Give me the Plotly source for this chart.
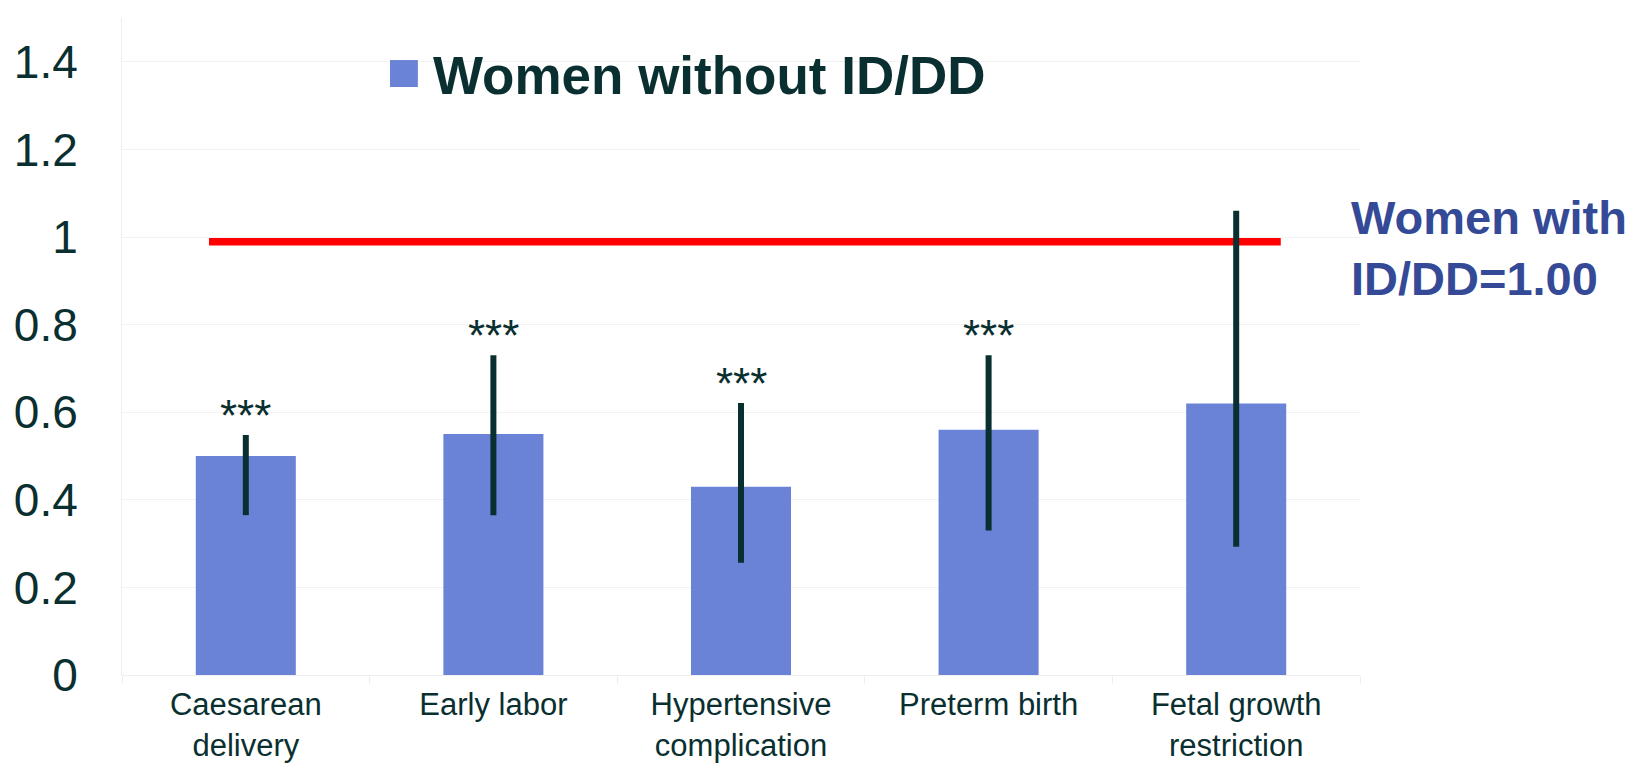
import plotly.graph_objects as go

categories = ["Caesarean<br>delivery", "Early labor", "Hypertensive<br>complication",
              "Preterm birth", "Fetal growth<br>restriction"]
odds_ratio = [0.50, 0.55, 0.43, 0.56, 0.62]
ci_low = [0.365, 0.365, 0.256, 0.33, 0.293]
ci_high = [0.548, 0.73, 0.621, 0.73, 1.06]
significance = ["***", "***", "***", "***", ""]
reference_value = 0.99
y_ticks = [0, 0.2, 0.4, 0.6, 0.8, 1.0, 1.2, 1.4]
y_tick_text = ["0", "0.2", "0.4", "0.6", "0.8", "1", "1.2", "1.4"]
series_name = "Women without ID/DD"
reference_label = "Women with<br>ID/DD=1.00"

FONT = "Arial, Liberation Sans, sans-serif"
DARK = "#0a2f30"
BAR = "#6b83d6"

fig = go.Figure()
fig.add_trace(go.Bar(
    x=categories, y=odds_ratio, name=series_name,
    marker=dict(color=BAR, line=dict(width=0)),
    error_y=dict(type="data", symmetric=False,
                 array=[h - v for h, v in zip(ci_high, odds_ratio)],
                 arrayminus=[v - l for v, l in zip(odds_ratio, ci_low)],
                 color=DARK, thickness=6, width=0),
    showlegend=False,
))

for c, h, s in zip(categories, ci_high, significance):
    if s:
        fig.add_annotation(x=c, y=h, text=s, showarrow=False, xref="x", yref="y",
                           yanchor="bottom", yshift=-7,
                           font=dict(family=FONT, size=44, color=DARK))

# reference line (women with ID/DD)
fig.add_shape(type="line", xref="paper", yref="y", x0=0.0703, x1=0.936,
              y0=reference_value, y1=reference_value,
              line=dict(color="#ff0000", width=8), layer="below")

fig.add_annotation(xref="paper", yref="y", x=0.991, y=0.975, xanchor="left", yanchor="middle",
                   text="<b>" + reference_label + "</b>", showarrow=False, align="left",
                   font=dict(family=FONT, size=47, color="#344a97"))

# legend
fig.add_shape(type="rect", xref="paper", yref="paper", x0=0.2165, x1=0.239, y0=0.895, y1=0.936,
              fillcolor=BAR, line=dict(width=0))
fig.add_annotation(xref="paper", yref="paper", x=0.2496, y=0.913, xanchor="left", yanchor="middle",
                   text="<b>" + series_name + "</b>", showarrow=False,
                   font=dict(family=FONT, size=53, color=DARK))

fig.update_layout(
    width=1641, height=767,
    margin=dict(l=122, r=281, t=18, b=92),
    paper_bgcolor="white", plot_bgcolor="white",
    bargap=0.596,
    font=dict(family=FONT, color=DARK),
)
fig.update_xaxes(
    automargin=False,
    showgrid=False, showline=True, linecolor="#eeeeee", linewidth=1,
    tickson="boundaries", ticks="outside", ticklen=8, tickcolor="#eeeeee",
    ticklabelstandoff=2,
    tickfont=dict(family=FONT, size=31, color=DARK),
)
fig.update_yaxes(
    automargin=False,
    range=[0, 1.5], tickvals=y_ticks, ticktext=y_tick_text,
    showgrid=True, gridcolor="#f2f2f2", gridwidth=1, zeroline=False,
    showline=True, linecolor="#eeeeee", linewidth=1,
    ticks="", ticklabelstandoff=34,
    tickfont=dict(family=FONT, size=46, color=DARK),
)

fig.write_html("out.html", config={"displayModeBar": False},
               post_script="document.body.style.margin='0';document.body.style.overflow='hidden';")
